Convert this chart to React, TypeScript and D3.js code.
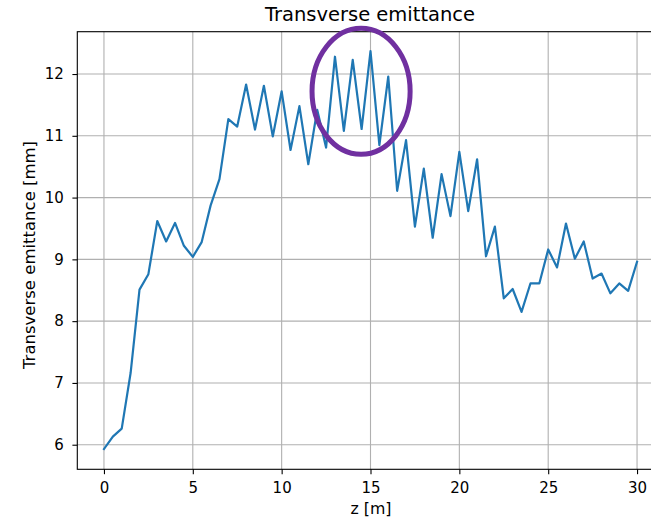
import React, { useEffect, useRef } from "react";
import * as d3 from "d3";

// Beamline positions along z [m]
const zPositions = [
  0, 0.5, 1, 1.5, 2, 2.5, 3, 3.5, 4, 4.5, 5, 5.5, 6, 6.5, 7, 7.5, 8, 8.5, 9, 9.5,
  10, 10.5, 11, 11.5, 12, 12.5, 13, 13.5, 14, 14.5, 15, 15.5, 16, 16.5, 17, 17.5,
  18, 18.5, 19, 19.5, 20, 20.5, 21, 21.5, 22, 22.5, 23, 23.5, 24, 24.5, 25, 25.5,
  26, 26.5, 27, 27.5, 28, 28.5, 29, 29.5, 30,
];

// Transverse emittance [mm] at each position
const emittance = [
  5.93, 6.13, 6.26, 7.16, 8.51, 8.76, 9.62, 9.29, 9.59, 9.22, 9.04, 9.28, 9.87, 10.3,
  11.27, 11.15, 11.83, 11.1, 11.81, 10.99, 11.72, 10.77, 11.48, 10.54, 11.42, 10.81,
  12.28, 11.08, 12.23, 11.11, 12.37, 10.85, 11.96, 10.11, 10.93, 9.53, 10.47, 9.35,
  10.38, 9.7, 10.74, 9.78, 10.62, 9.05, 9.53, 8.37, 8.52, 8.15, 8.61, 8.61, 9.16,
  8.87, 9.58, 9.01, 9.29, 8.69, 8.77, 8.45, 8.61, 8.49, 8.96,
];

const xTicks = [0, 5, 10, 15, 20, 25, 30];
const yTicks = [6, 7, 8, 9, 10, 11, 12];

// Highlighted region (data coordinates)
const highlightCenter = [14.47, 11.72];
const highlightRadii = [2.76, 1.02];

const W = 651;
const H = 523;
const FONT = "DejaVu Sans, sans-serif";

export default function App() {
  const ref = useRef<SVGSVGElement>(null);

  useEffect(() => {
    const svg = d3.select(ref.current);
    svg.selectAll("*").remove();

    const left = 77.3;
    const right = 663.7;
    const top = 31.7;
    const bottom = 469.3;

    const x = d3.scaleLinear().domain([-1.5, 31.5]).range([left, right]);
    const y = d3.scaleLinear().domain([5.602, 12.685]).range([bottom, top]);

    const g = svg.append("g");

    // grid
    g.selectAll(".gx")
      .data(xTicks)
      .join("line")
      .attr("x1", (d) => x(d))
      .attr("x2", (d) => x(d))
      .attr("y1", top)
      .attr("y2", bottom)
      .attr("stroke", "#b0b0b0")
      .attr("stroke-width", 1.1);
    g.selectAll(".gy")
      .data(yTicks)
      .join("line")
      .attr("x1", left)
      .attr("x2", right)
      .attr("y1", (d) => y(d))
      .attr("y2", (d) => y(d))
      .attr("stroke", "#b0b0b0")
      .attr("stroke-width", 1.1);

    // data line
    const line = d3
      .line<number>()
      .x((_, i) => x(zPositions[i]))
      .y((d) => y(d));
    g.append("path")
      .datum(emittance)
      .attr("d", line)
      .attr("fill", "none")
      .attr("stroke", "#1f77b4")
      .attr("stroke-width", 2.2)
      .attr("stroke-linejoin", "round")
      .attr("stroke-linecap", "square");

    // spines
    g.append("rect")
      .attr("x", left)
      .attr("y", top)
      .attr("width", right - left)
      .attr("height", bottom - top)
      .attr("fill", "none")
      .attr("stroke", "#000")
      .attr("stroke-width", 1.1);

    // axes
    const xAxis = d3
      .axisBottom(x)
      .tickValues(xTicks)
      .tickSize(4.9)
      .tickPadding(8.5)
      .tickFormat((d) => String(d));
    const yAxis = d3
      .axisLeft(y)
      .tickValues(yTicks)
      .tickSize(4.9)
      .tickPadding(8.5)
      .tickFormat((d) => String(d));

    const ax = svg.append("g").attr("transform", `translate(0,${bottom})`).call(xAxis);
    const ay = svg.append("g").attr("transform", `translate(${left},0)`).call(yAxis);
    [ax, ay].forEach((a) => {
      a.select(".domain").remove();
      a.selectAll(".tick line").attr("stroke", "#000").attr("stroke-width", 1.1);
      a.selectAll(".tick text")
        .attr("font-family", FONT)
        .attr("font-size", 15)
        .attr("fill", "#000");
    });

    // highlight ellipse
    g.append("ellipse")
      .attr("cx", x(highlightCenter[0]))
      .attr("cy", y(highlightCenter[1]))
      .attr("rx", x(highlightCenter[0] + highlightRadii[0]) - x(highlightCenter[0]))
      .attr("ry", y(highlightCenter[1]) - y(highlightCenter[1] + highlightRadii[1]))
      .attr("fill", "none")
      .attr("stroke", "#7030a0")
      .attr("stroke-width", 5);

    // title and labels
    svg
      .append("text")
      .attr("x", (263 + 477) / 2)
      .attr("y", 21)
      .attr("text-anchor", "middle")
      .attr("font-family", FONT)
      .attr("font-size", 19.5)
      .text("Transverse emittance");

    svg
      .append("text")
      .attr("x", 371)
      .attr("y", 514)
      .attr("text-anchor", "middle")
      .attr("font-family", FONT)
      .attr("font-size", 15.8)
      .text("z [m]");

    svg
      .append("text")
      .attr("transform", `translate(35,255) rotate(-90)`)
      .attr("text-anchor", "middle")
      .attr("font-family", FONT)
      .attr("font-size", 16.5)
      .text("Transverse emittance [mm]");
  }, []);

  return (
    <svg
      ref={ref}
      width={W}
      height={H}
      style={{ position: "absolute", left: 0, top: 0, background: "#fff" }}
    />
  );
}
